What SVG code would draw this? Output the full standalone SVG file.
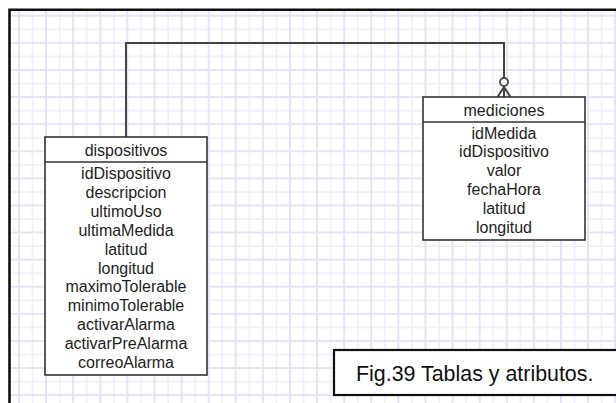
<svg xmlns="http://www.w3.org/2000/svg" width="616" height="403" viewBox="0 0 616 403">
  <style>
    .entity { fill: #ffffff; stroke: #333333; stroke-width: 1.6; }
    .sep { stroke: #333333; stroke-width: 1.6; }
    .label { font-family: "Liberation Sans", Arial, sans-serif; font-size: 16px; fill: #1e1e1e; text-anchor: middle; }
    .link { fill: none; stroke: #444444; stroke-width: 2; }
    .caption { font-family: "Liberation Sans", Arial, sans-serif; font-size: 21.4px; fill: #111111; }
  </style>
  <defs>
    <!-- paper grid: heavier line every second cell -->
    <pattern id="grid" patternUnits="userSpaceOnUse" x="17" y="13.8" width="27.1" height="27.1">
      <path d="M15.55 0 V27.1 M0 15.55 H27.1" stroke="#efeefc" stroke-width="1.6" fill="none"/>
      <path d="M2 0 V27.1 M0 2 H27.1" stroke="#e5e2f9" stroke-width="2" fill="none"/>
    </pattern>
  </defs>

  <rect x="0" y="0" width="616" height="403" fill="#ffffff"/>
  <rect x="10" y="10" width="606" height="393" fill="url(#grid)"/>
  <!-- page frame -->
  <path d="M9.5 403 V9.8 H616" fill="none" stroke="#111111" stroke-width="2.6"/>

  <g id="connectors">
    <path class="link" d="M126 137 V43 H504 V97"/>
    <!-- zero-or-many end -->
    <path class="link" d="M504 87 L497.5 97 M504 87 L510.5 97"/>
    <circle cx="504" cy="82" r="4" fill="#ffffff" stroke="#444444" stroke-width="1.8"/>
  </g>

  <g id="dispositivos">
    <rect class="entity" x="45" y="137" width="162" height="238"/>
    <line class="sep" x1="45" y1="162" x2="207" y2="162"/>
    <text class="label" x="126" y="156">dispositivos</text>
    <text class="label" x="126" y="179">idDispositivo</text>
    <text class="label" x="126" y="197.9">descripcion</text>
    <text class="label" x="126" y="216.8">ultimoUso</text>
    <text class="label" x="126" y="235.7">ultimaMedida</text>
    <text class="label" x="126" y="254.6">latitud</text>
    <text class="label" x="126" y="273.5">longitud</text>
    <text class="label" x="126" y="292.4">maximoTolerable</text>
    <text class="label" x="126" y="311.3">minimoTolerable</text>
    <text class="label" x="126" y="330.2">activarAlarma</text>
    <text class="label" x="126" y="349.1">activarPreAlarma</text>
    <text class="label" x="126" y="368">correoAlarma</text>
  </g>

  <g id="mediciones">
    <rect class="entity" x="423" y="97" width="162" height="143"/>
    <line class="sep" x1="423" y1="122" x2="585" y2="122"/>
    <text class="label" x="504" y="116">mediciones</text>
    <text class="label" x="504" y="138.5">idMedida</text>
    <text class="label" x="504" y="157.4">idDispositivo</text>
    <text class="label" x="504" y="176.3">valor</text>
    <text class="label" x="504" y="195.2">fechaHora</text>
    <text class="label" x="504" y="214.1">latitud</text>
    <text class="label" x="504" y="233">longitud</text>
  </g>

  <g id="caption">
    <rect x="334" y="350" width="284" height="45" fill="#ffffff" stroke="#111111" stroke-width="2.2"/>
    <text class="caption" x="356" y="381">Fig.39 Tablas y atributos.</text>
  </g>
</svg>
